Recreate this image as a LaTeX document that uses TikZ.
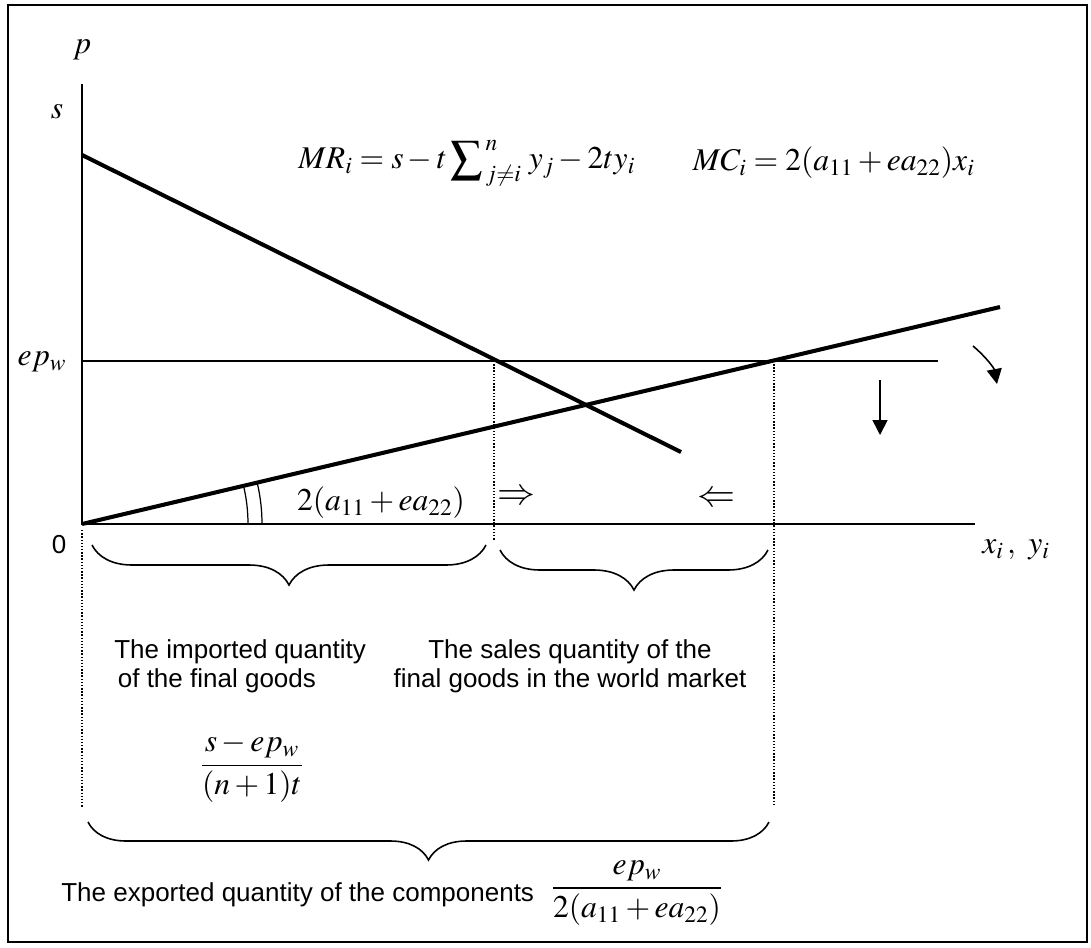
\documentclass[tikz,border=0pt]{standalone}
\usepackage{amsmath}
\usepackage{mathptmx}
\usepackage[no-math]{fontspec}
\setmainfont{Liberation Sans}
\usepackage{tikz}
\usetikzlibrary{arrows.meta, positioning, decorations.pathreplacing}
\tikzset{
  lbl/.style={font=\fontsize{14.8}{16.6}\selectfont, inner sep=0pt},
  mth/.style={font=\fontsize{18}{20}\selectfont, inner sep=0pt},
  axisline/.style={line width=1.1pt},
  curveline/.style={line width=2.3pt},
  guide/.style={densely dotted, line width=0.8pt},
  bracket/.style={decorate, decoration={brace, amplitude=#1}, line width=0.9pt},
  shift arrow/.style={-{Triangle[length=0.3cm, width=0.3cm]}, line width=0.9pt}
}

\begin{document}
\begin{tikzpicture}[x=0.02cm, y=-0.02cm]
            \useasboundingbox (0,0) rectangle (1091,947);
            % Frame
            \draw[line width=1.1pt] (8,5) rectangle (1087,942);

            % Axes and key points
            \coordinate (O) at (82,524);
            \coordinate (ytop) at (82,84);
            \coordinate (xend) at (975,524);
            \coordinate (mrstart) at (82,155);
            \coordinate (mrend) at (681,452);
            \coordinate (mcend) at (1000,307);
            \coordinate (epleft) at (82,361);
            \coordinate (epright) at (938,361);
            \coordinate (cutA) at (494,361);
            \coordinate (cutB) at (774,361);
            \draw[axisline] (ytop) -- (O) -- (xend);

            % Axis labels
            \node[mth] (plbl) at (82,50) {$p$};
            \node[mth] (slbl) at (57,112) {$s$};
            \node[mth] (eplbl) at (42,362) {$ep_w$};
            \node[lbl] (zero) at (59,545) {0};
            \node[mth] (xylbl) at (1016,550) {$x_i\,,\ y_i$};

            % World price line
            \draw[line width=0.9pt] (epleft) -- (epright);

            % MR and MC curves
            \draw[curveline] (mrstart) -- (mrend);
            \draw[curveline] (O) -- (mcend);

            % Slope marks
            \draw[line width=0.7pt] (248,524) arc[start angle=0, end angle=-13.27, radius=166];
            \draw[line width=0.7pt] (262,524) arc[start angle=0, end angle=-13.27, radius=180];
            \node[mth] (slope) at (381,503) {$2(a_{11}+ea_{22})$};

            % Formulas
            \node[mth, anchor=west] (mr) at (298,163) {$MR_i = s - t\displaystyle\sum\nolimits_{\,j\neq i}^{\,n}\, y_j - 2ty_i$};
            \node[mth, anchor=east] (mc) at (975,163) {$MC_i = 2(a_{11}+ea_{22})x_i$};

            % Dotted guides
            \coordinate (cutAb) at (494,540);
            \coordinate (cutBb) at (774,805);
            \coordinate (Otop) at (82,530);
            \coordinate (Obot) at (82,808);
            \draw[guide] (cutA) -- (cutAb);
            \draw[guide] (cutB) -- (cutBb);
            \draw[guide] (Otop) -- (Obot);

            % Direction arrows
            \node[mth, scale=1.2] (rarr) at (516,498) {$\Rightarrow$};
            \node[mth, scale=1.2] (larr) at (716,500) {$\Leftarrow$};
            \coordinate (downA) at (880,380);
            \coordinate (downB) at (880,435);
            \draw[shift arrow] (downA) -- (downB);
            \coordinate (turnA) at (973,346);
            \coordinate (turnB) at (997,384);
            \draw[shift arrow] (turnA) .. controls (986,357) and (994,368) .. (turnB);

            % Braces
            \draw[bracket=0.8cm] (486,545) -- (92,545);
            \draw[bracket=0.8cm] (768,550) -- (500,550);
            \draw[bracket=0.76cm] (769,822) -- (88,822);

            % Brace labels
            \node[lbl, align=left, anchor=west] (imported) at (114,666) {The imported quantity\\\hspace{2pt}of the final goods};
            \node[lbl, align=center] (sales) at (570,666) {The sales quantity of the\\final goods in the world market};
            \node[mth] (gap) at (252,768) {$\dfrac{s-ep_w}{(n+1)t}$};
            \node[lbl, anchor=west] (exported) at (61,895) {The exported quantity of the components};
            \node[mth] (export) at (637,893) {$\dfrac{ep_w}{2(a_{11}+ea_{22})}$};
\end{tikzpicture}
\end{document}
